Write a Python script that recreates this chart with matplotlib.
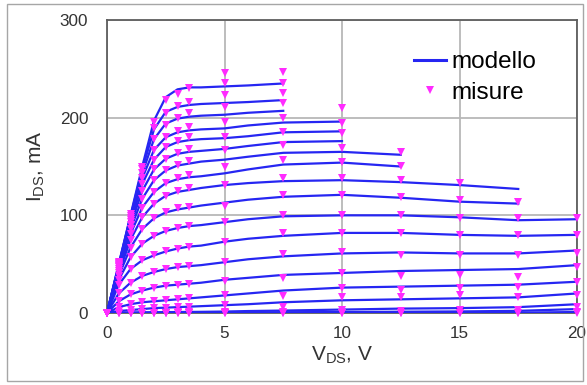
import matplotlib
matplotlib.use("Agg")
import matplotlib.pyplot as plt
from matplotlib.lines import Line2D
from matplotlib.patches import Rectangle
import numpy as np

plt.rcParams['font.family'] = ['Liberation Sans', 'DejaVu Sans']
plt.rcParams['mathtext.default'] = 'regular'

# Drain voltage grid of the model curves (V)
v_model = [0, 0.5, 1, 1.5, 2, 2.5, 3, 3.5, 4, 5, 6, 7.5, 10, 12.5, 15, 17.5, 20]

# Model drain current (mA), one list per gate bias, highest bias first
model_c01 = [0, 50, 100, 150, 197, 221, 229, 231, 231, 232, 233, 235]
model_c02 = [0, 50, 99, 147, 188, 206, 211, 213, 214, 215, 216, 218]
model_c03 = [0, 49, 98, 143, 178, 194, 199, 201, 202, 203, 205, 207]
model_c04 = [0, 48, 96, 138, 167, 180, 185, 187, 188, 189, 192, 195, 196]
model_c05 = [0, 47, 93, 132, 157, 170, 175, 177, 178, 179, 181, 185, 186]
model_c06 = [0, 46, 90, 125, 147, 158, 163, 165, 166, 168, 171, 175, 176]
model_c07 = [0, 45, 86, 117, 136, 146, 151, 153, 155, 157, 160, 164, 165, 162]
model_c08 = [0, 43, 81, 108, 124, 133, 137, 139, 140, 143, 147, 152, 154, 150]
model_c09 = [0, 41, 75, 98, 112, 120, 124, 126, 128, 131, 133, 135, 136, 134, 131, 127]
model_c10 = [0, 38, 67, 86, 97, 103, 106, 108, 110, 113, 116, 119, 121, 118, 114, 112]
model_c11 = [0, 34, 57, 71, 79, 84, 87, 89, 90, 93, 96, 99, 100, 100, 98, 95, 96]
model_c12 = [0, 29, 45, 54, 59, 63, 66, 68, 69, 73, 76, 79, 82, 82, 80, 79, 80]
model_c13 = [0, 20, 31, 38, 42, 45, 47, 48, 49, 52, 55, 58, 61, 62, 61, 61, 64]
model_c14 = [0, 12, 19, 23, 26, 28, 29, 30, 31, 34, 36, 39, 41, 43, 44, 45, 49]
model_c15 = [0, 6, 9, 11, 12, 13, 14, 15, 16, 18, 20, 23, 26, 27, 28, 29, 32]
model_c16 = [0, 2, 3, 4, 5, 5.5, 6, 6.5, 7, 8, 9, 11, 13, 14, 15, 16, 20]
model_c17 = [0, 0.3, 0.5, 0.7, 0.8, 0.9, 1, 1.1, 1.2, 1.5, 2, 2.5, 3.5, 4.5, 5, 6, 9]
model_c18 = [0, 0, 0.1, 0.1, 0.2, 0.2, 0.3, 0.3, 0.4, 0.5, 0.6, 0.8, 1, 1.3, 1.6, 2.2, 4]
model_c19 = [0, 0, 0, 0, 0, 0, 0, 0, 0, 0, 0, 0, 0, 0, 0.2, 0.4, 1]

# Drain voltages of the measured points (V)
v_meas = [0, 0.5, 1, 1.5, 2, 2.5, 3, 3.5, 5, 7.5, 10, 12.5, 15, 17.5, 20]

# Measured drain current (mA), same gate biases as above
meas_c01 = [0, 52, 101, 150, 196, 218, 224, 230, 246, 247]
meas_c02 = [0, 51, 99, 147, 189, 205, 212, 216, 235, 235]
meas_c03 = [0, 50, 97, 143, 178, 193, 200, 205, 223, 225]
meas_c04 = [0, 49, 95, 138, 167, 180, 186, 190, 211, 215, 210]
meas_c05 = [0, 48, 93, 132, 157, 170, 176, 180, 196, 200, 195]
meas_c06 = [0, 47, 90, 125, 147, 158, 164, 168, 180, 185, 184]
meas_c07 = [0, 45, 86, 117, 136, 146, 152, 156, 167, 172, 169, 165]
meas_c08 = [0, 43, 81, 108, 124, 133, 138, 141, 150, 157, 155, 151]
meas_c09 = [0, 41, 75, 98, 112, 120, 125, 128, 131, 138, 138, 136, 133]
meas_c10 = [0, 38, 67, 86, 97, 103, 107, 109, 110, 121, 121, 119, 116, 114]
meas_c11 = [0, 34, 57, 71, 79, 84, 87, 89, 93, 100, 100, 100, 97, 97, 97]
meas_c12 = [0, 29, 45, 54, 59, 63, 66, 68, 73, 82, 82, 82, 80, 80, 80]
meas_c13 = [0, 20, 31, 38, 42, 45, 47, 48, 52, 60, 62, 59, 59, 59, 61]
meas_c14 = [0, 12, 19, 23, 26, 28, 29, 30, 33, 36, 41, 38, 39, 37, 47]
meas_c15 = [0, 6, 9, 11, 12, 13, 14, 15, 18, 17, 26, 24, 26, 27, 32]
meas_c16 = [0, 2, 3, 4, 5, 5.5, 6, 6.5, 8, 6, 16, 16, 18, 16, 18]
meas_c17 = [0, 0, 0, 0, 0.5, 0.5, 1, 1, 1, 1, 3, 2, 3, 3, 6]
meas_c18 = [0, 0, 0, 0, 0, 0, 0, 0, 0, 0, 0, 0, 0.5, 0.5, 1]
meas_c19 = [0, 0, 0, 0, 0, 0, 0, 0, 0, 0, 0, 0, 0, 0, 0]

model_curves = [model_c01, model_c02, model_c03, model_c04, model_c05, model_c06,
                model_c07, model_c08, model_c09, model_c10, model_c11, model_c12,
                model_c13, model_c14, model_c15, model_c16, model_c17, model_c18,
                model_c19]
meas_curves = [meas_c01, meas_c02, meas_c03, meas_c04, meas_c05, meas_c06,
               meas_c07, meas_c08, meas_c09, meas_c10, meas_c11, meas_c12,
               meas_c13, meas_c14, meas_c15, meas_c16, meas_c17, meas_c18,
               meas_c19]

x_ticks = [0, 5, 10, 15, 20]
y_ticks = [0, 100, 200, 300]

W, H = 587, 385
fig = plt.figure(figsize=(W / 100, H / 100), dpi=100)
fig.patch.set_facecolor('white')

# chart-area border
fig.add_artist(Rectangle((7 / W, 4 / H), (583 - 7) / W, (381 - 4) / H,
                         transform=fig.transFigure, fill=False,
                         edgecolor='#a6a6a6', lw=1.0))

left, right, top, bottom = 107, 577, 20, 313
ax = fig.add_axes([left / W, 1 - bottom / H, (right - left) / W, (bottom - top) / H])

line_color = '#2626f2'
mark_color = '#ff2bff'

for ids in model_curves:
    ax.plot(v_model[:len(ids)], ids, color=line_color, lw=1.6, zorder=3,
            solid_joinstyle='round')

for ids in meas_curves:
    ax.plot(v_meas[:len(ids)], ids, linestyle='none', marker='v',
            markersize=6.3, color=mark_color, markeredgewidth=0, zorder=4,
            clip_on=False)

ax.set_xlim(0, 20)
ax.set_ylim(0, 300)
ax.set_xticks(x_ticks)
ax.set_yticks(y_ticks)
ax.grid(True, color='#b8b8b8', lw=1.3, zorder=0)
ax.set_axisbelow(True)
for s in ax.spines.values():
    s.set_color('#5e5e5e')
    s.set_linewidth(1.3)
ax.tick_params(length=0, labelsize=12.3, colors='#333333')
ax.tick_params(axis='y', pad=13.5)
ax.tick_params(axis='x', pad=9)

ax.set_xlabel('V$_{DS}$, V', fontsize=15, color='#333333', labelpad=3)
ax.set_ylabel('I$_{DS}$, mA', fontsize=15, color='#333333', labelpad=9)

handles = [Line2D([], [], color=line_color, lw=2.2),
           Line2D([], [], linestyle='none', marker='v', markersize=6,
                  color=mark_color, markeredgewidth=0)]
ax.legend(handles, ['modello', 'misure'], loc='upper left',
          bbox_to_anchor=(414 / W, 1 - 51 / H), bbox_transform=fig.transFigure,
          frameon=False, fontsize=17.5, handlelength=1.3, handletextpad=0.22,
          labelspacing=0.35, borderaxespad=0, borderpad=0)

fig.savefig('out.png', dpi=100, facecolor='white')
